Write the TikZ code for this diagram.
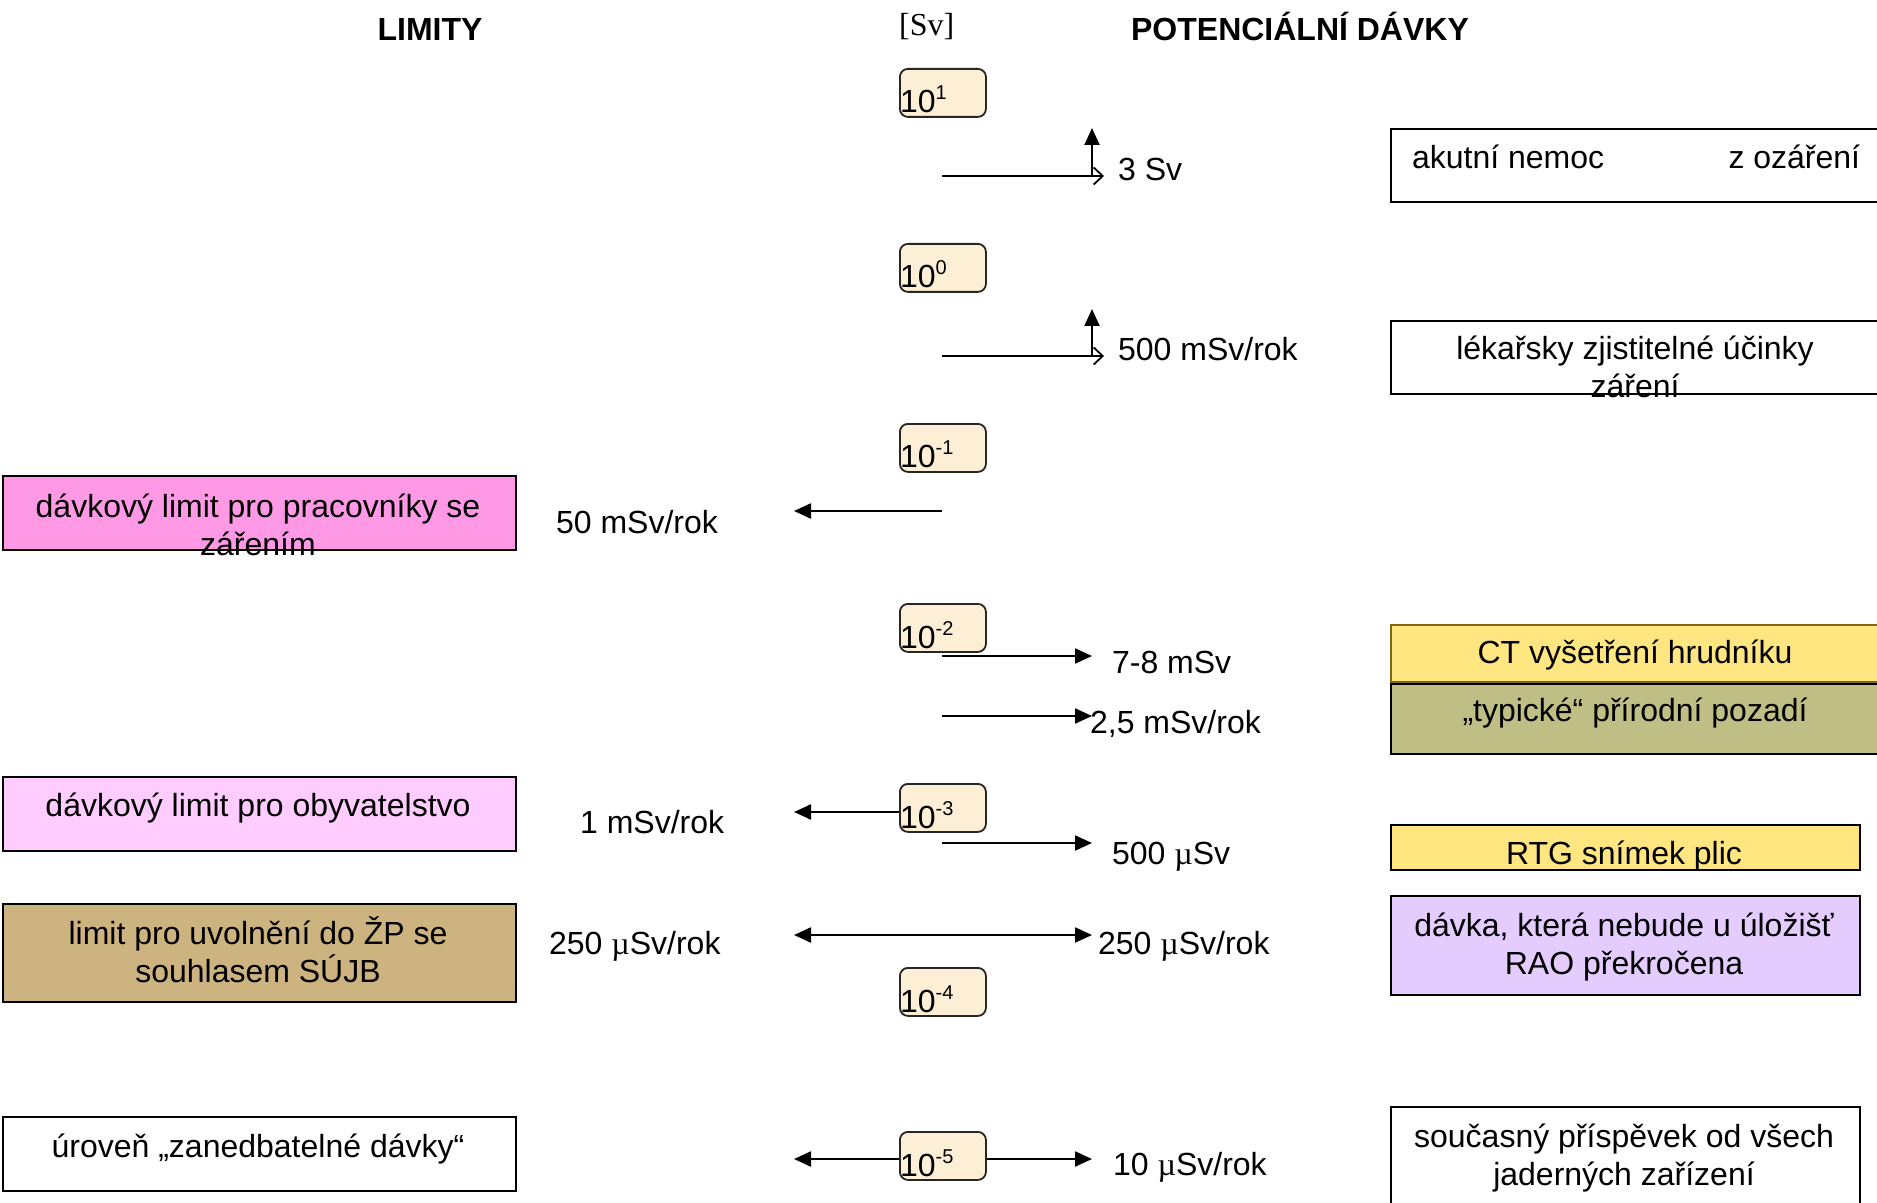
\documentclass[tikz,border=0pt]{standalone}
\usepackage{fontspec}
\setmainfont{Liberation Sans}
\newfontfamily\serifface{Liberation Serif}
\usetikzlibrary{arrows.meta}
\definecolor{cream}{HTML}{FDEFD5}
\definecolor{pinkA}{HTML}{FF99E6}
\definecolor{pinkB}{HTML}{FFCCFF}
\definecolor{tanbox}{HTML}{CCB380}
\definecolor{lavender}{HTML}{E4CCFF}
\definecolor{yellowbox}{HTML}{FFE680}
\definecolor{olivebox}{HTML}{BFBF85}
\definecolor{olivedark}{HTML}{806A10}
\newcommand{\mymu}{{\serifface µ}}
\newcommand{\pw}[1]{10\raisebox{6.5pt}{\fontsize{10}{12}\selectfont #1}}
\begin{document}
\begin{tikzpicture}[x=0.5pt,y=-0.5pt, line width=1.1pt,
  txt/.style={font=\fontsize{16}{19}\selectfont, inner sep=0pt, anchor=base},
  ltxt/.style={txt, anchor=base west},
  mtxt/.style={txt, align=center},
  ttl/.style={txt, font=\fontsize{16}{19}\selectfont\bfseries},
  scl/.style={draw=black!85, fill=cream, rounded corners=4pt, line width=0.9pt, minimum width=43pt, minimum height=24pt, inner sep=0pt, anchor=north west},
  bx/.style={draw=black, line width=1pt, inner sep=0pt, anchor=north west},
  tip/.style={-{Triangle[length=8.5pt,width=7.5pt]}},
  barb/.style={-{Straight Barb[length=4.5pt,width=8.5pt,line width=0.9pt]}}]
\useasboundingbox (0,0) rectangle (1877,1203);
\clip (0,0) rectangle (1877,1203);
\fill[white] (0,0) rectangle (1877,1203);

% titles
\node[ttl] (tLim) at (430,41) {LIMITY};
\node[txt, anchor=base west, font=\fontsize{16}{19}\selectfont\serifface] (tSv) at (898,36) {[Sv]};
\node[ttl] (tPot) at (1300,41) {POTENCIÁLNÍ DÁVKY};

% scale boxes
\node[scl] (s1) at (899,68) {};
\node[scl] (s0) at (899,243) {};
\node[scl] (sm1) at (899,423) {};
\node[scl] (sm2) at (899,603) {};
\node[scl] (sm3) at (899,783) {};
\node[scl] (sm4) at (899,967) {};
\node[scl] (sm5) at (899,1131) {};
\node[ltxt] (l1) at (899,113) {\pw{1}};
\node[ltxt] (l0) at (899,288) {\pw{0}};
\node[ltxt] (lm1) at (899,467) {\pw{-1}};
\node[ltxt] (lm2) at (899,648) {\pw{-2}};
\node[ltxt] (lm3) at (899,828) {\pw{-3}};
\node[ltxt] (lm4) at (899,1012) {\pw{-4}};
\node[ltxt] (lm5) at (899,1176) {\pw{-5}};

% left boxes
\node[bx, fill=pinkA, minimum width=256.5pt, minimum height=37pt] (bPrac) at (2,475) {};
\node[bx, fill=pinkB, minimum width=256.5pt, minimum height=37pt] (bObyv) at (2,776) {};
\node[bx, fill=tanbox, minimum width=256.5pt, minimum height=49pt] (bZP) at (2,903) {};
\node[bx, fill=white, minimum width=256.5pt, minimum height=37pt] (bZan) at (2,1116) {};
\node[mtxt] (xPrac) at (258,555) {dávkový limit pro pracovníky se\\zářením};
\node[txt] (xObyv) at (258,816) {dávkový limit pro obyvatelstvo};
\node[mtxt] (xZP) at (258,982) {limit pro uvolnění do ŽP se\\souhlasem SÚJB};
\node[txt] (xZan) at (258,1157) {úroveň „zanedbatelné dávky“};

% right boxes
\node[bx, fill=white, minimum width=247.5pt, minimum height=36.5pt] (bAkut) at (1390,128) {};
\node[bx, fill=white, minimum width=247.5pt, minimum height=36.5pt] (bLek) at (1390,320) {};
\node[bx, draw=olivedark, fill=yellowbox, minimum width=247.5pt, minimum height=28.5pt] (bCT) at (1390,624) {};
\node[bx, fill=olivebox, minimum width=247.5pt, minimum height=35pt] (bTyp) at (1390,683) {};
\node[bx, fill=yellowbox, minimum width=234.5pt, minimum height=22.5pt] (bRTG) at (1390,824) {};
\node[bx, fill=lavender, minimum width=234.5pt, minimum height=49.5pt] (bRAO) at (1390,895) {};
\node[bx, fill=white, minimum width=234.5pt, minimum height=55pt] (bJad) at (1390,1106) {};
\node[ltxt] (xAkut) at (1411,169) {\makebox[224pt][s]{akutní nemoc\hfill z ozáření}};
\node[mtxt] (xLek) at (1635,397) {lékařsky zjistitelné účinky\\záření};
\node[txt] (xCT) at (1635,663) {CT vyšetření hrudníku};
\node[txt] (xTyp) at (1635,721) {„typické“ přírodní pozadí};
\node[txt] (xRTG) at (1624,864) {RTG snímek plic};
\node[mtxt] (xRAO) at (1624,974) {dávka, která nebude u úložišť\\RAO překročena};
\node[mtxt] (xJad) at (1624,1185) {současný příspěvek od všech\\jaderných zařízení};

% value labels
\node[ltxt] (v3) at (1117,181) {3 Sv};
\node[ltxt] (v500m) at (1117,360) {500 mSv/rok};
\node[ltxt] (v50) at (555,533) {50 mSv/rok};
\node[ltxt] (v78) at (1111,673) {7-8 mSv};
\node[ltxt] (v25) at (1089,733) {2,5 mSv/rok};
\node[ltxt] (v1) at (579,833) {1 mSv/rok};
\node[ltxt] (v500u) at (1111,864) {500 \mymu Sv};
\node[ltxt] (v250l) at (548,954) {250 \mymu Sv/rok};
\node[ltxt] (v250r) at (1097,954) {250 \mymu Sv/rok};
\node[ltxt] (v10) at (1112,1175) {10 \mymu Sv/rok};

% connector coordinates
\coordinate (a3s) at (942,176);   \coordinate (a3c) at (1092,176); \coordinate (a3b) at (1104,176); \coordinate (a3u) at (1092,128);
\coordinate (a5s) at (942,356); \coordinate (a5c) at (1092,356); \coordinate (a5b) at (1104,356); \coordinate (a5u) at (1092,309);
\coordinate (a50s) at (942,511);  \coordinate (a50e) at (794,511);
\coordinate (a78s) at (942,656);  \coordinate (a78e) at (1092,656);
\coordinate (a25s) at (942,716);  \coordinate (a25e) at (1092,716);
\coordinate (a1e) at (794,812);
\coordinate (a500s) at (942,843); \coordinate (a500e) at (1092,843);
\coordinate (a250s) at (942,935); \coordinate (a250l) at (794,935); \coordinate (a250r) at (1092,935);
\coordinate (a10l) at (794,1159); \coordinate (a10r) at (1092,1159);

% connectors
\draw[barb] (a3s) -- (a3b);
\draw[tip] (a3c) -- (a3u);
\draw[barb] (a5s) -- (a5b);
\draw[tip] (a5c) -- (a5u);
\draw[tip] (a50s) -- (a50e);
\draw[tip] (a78s) -- (a78e);
\draw[tip] (a25s) -- (a25e);
\draw[tip] (sm3.west |- a1e) -- (a1e);
\draw[tip] (a500s) -- (a500e);
\draw[tip] (a250s) -- (a250l);
\draw[tip] (a250s) -- (a250r);
\draw[tip] (sm5.west |- a10l) -- (a10l);
\draw[tip] (sm5.east |- a10r) -- (a10r);
\end{tikzpicture}
\end{document}
